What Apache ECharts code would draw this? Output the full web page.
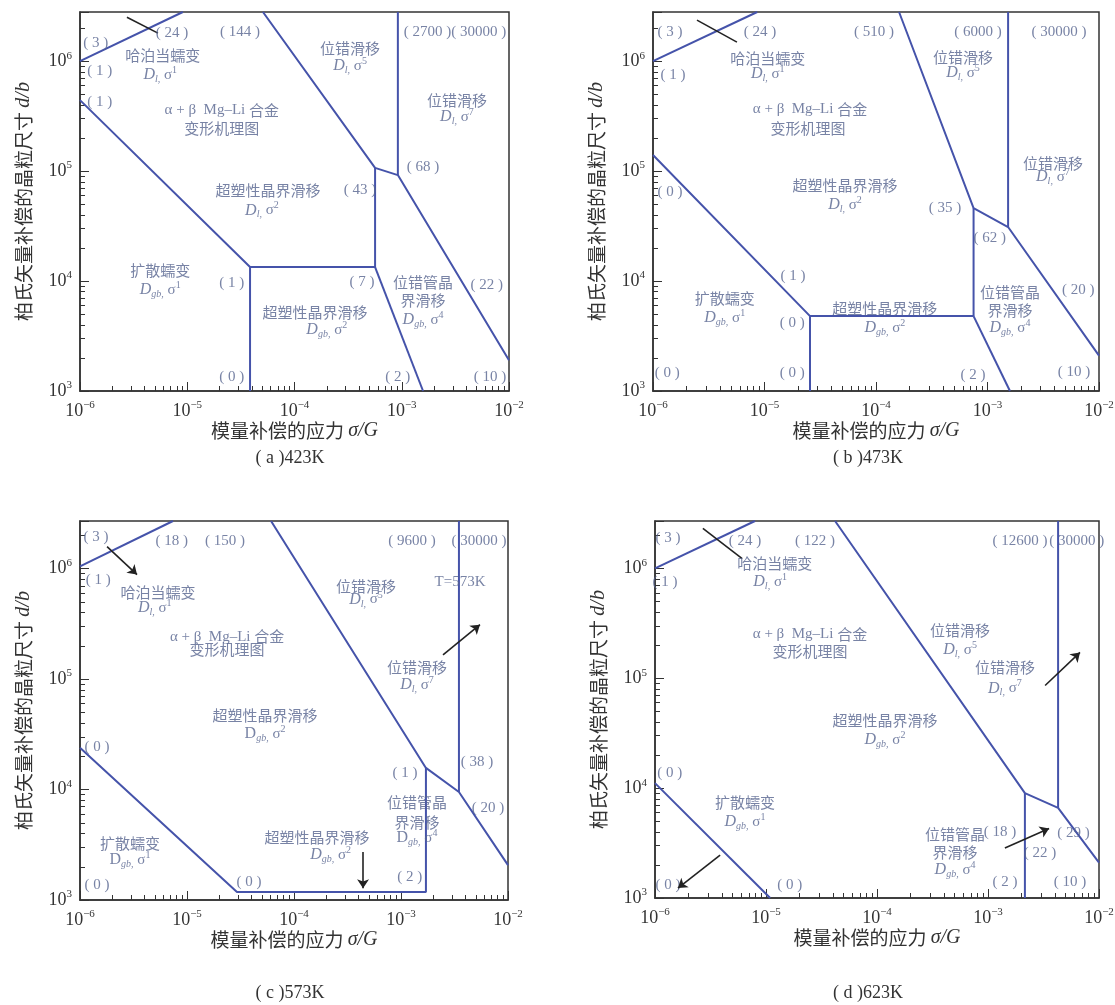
<!DOCTYPE html>
<html>
<head>
<meta charset="utf-8">
<script src="https://cdn.jsdelivr.net/npm/echarts@6/dist/echarts.min.js"></script>
<style>
  html, body { margin: 0; padding: 0; background: #fff; }
  #chart { width: 1115px; height: 1005px; }
</style>
</head>
<body>
<div id="chart"></div>
<script>
// ---------------- data (sigma/G , d/b) ----------------
var xMin = 1e-6, xMax = 1e-2, yMin = 1e3;
var yMaxes = [2.8e6, 2.8e6, 2.7e6, 2.7e6];
var captions = ['( a )423K', '( b )473K', '( c )573K', '( d )623K'];

// boundaries (blue lines), one polyline each
var boundsA = [
    [[1e-6, 1e6], [9.1e-6, 2.8e6]],
    [[1e-6, 4.42e5], [3.85e-5, 1.34e4], [5.64e-4, 1.34e4]],
    [[3.85e-5, 1e3], [3.85e-5, 1.34e4]],
    [[5.64e-4, 1.34e4], [5.64e-4, 1.07e5]],
    [[5.08e-5, 2.8e6], [5.64e-4, 1.07e5], [9.2e-4, 9.2e4], [1e-2, 1.9e3]],
    [[9.2e-4, 9.2e4], [9.2e-4, 2.8e6]],
    [[5.64e-4, 1.34e4], [1.58e-3, 1e3]]
];
var boundsB = [
    [[1e-6, 1e6], [8.6e-6, 2.8e6]],
    [[1e-6, 1.4e5], [2.56e-5, 4.8e3], [7.5e-4, 4.8e3]],
    [[2.56e-5, 1e3], [2.56e-5, 4.8e3]],
    [[7.5e-4, 4.8e3], [7.5e-4, 4.6e4]],
    [[1.61e-4, 2.8e6], [7.5e-4, 4.6e4], [1.53e-3, 3.1e4], [1e-2, 2.1e3]],
    [[1.53e-3, 3.1e4], [1.53e-3, 2.8e6]],
    [[7.5e-4, 4.8e3], [1.59e-3, 1e3]]
];
var boundsC = [
    [[1e-6, 1.05e6], [7.4e-6, 2.7e6]],
    [[1e-6, 2.39e4], [2.93e-5, 1.18e3], [1.71e-3, 1.18e3], [1.71e-3, 1.57e4]],
    [[6.1e-5, 2.7e6], [1.71e-3, 1.57e4], [3.48e-3, 9.5e3], [1e-2, 2.07e3]],
    [[3.48e-3, 9.5e3], [3.48e-3, 2.7e6]]
];
var boundsD = [
    [[1e-6, 1e6], [7.96e-6, 2.7e6]],
    [[1e-6, 1.11e4], [1.09e-5, 1e3]],
    [[4.19e-5, 2.7e6], [2.15e-3, 9e3], [4.28e-3, 6.6e3], [1e-2, 2.1e3]],
    [[2.15e-3, 9e3], [2.15e-3, 1e3]],
    [[4.28e-3, 6.6e3], [4.28e-3, 2.7e6]]
];

// short black strokes
var blackA = [[[2.74e-6, 2.51e6], [5.33e-6, 1.8e6]]];
var blackB = [[[2.48e-6, 2.36e6], [5.66e-6, 1.49e6]]];
var blackC = [];
var blackD = [[[2.7e-6, 2.31e6], [6.1e-6, 1.23e6]]];

// arrows: [from, to]
var arrowsA = [];
var arrowsB = [];
var arrowsC = [
    [[1.79e-6, 1.58e6], [3.41e-6, 8.83e5]],
    [[4.42e-4, 2.72e3], [4.42e-4, 1.28e3]],
    [[2.47e-3, 1.66e5], [5.47e-3, 3.11e5]]
];
var arrowsD = [
    [[3.86e-6, 2.46e3], [1.61e-6, 1.23e3]],
    [[1.42e-3, 2.85e3], [3.55e-3, 4.3e3]],
    [[3.27e-3, 8.6e4], [6.74e-3, 1.72e5]]
];

// text labels: [sigma/G, d/b, text]   "Dl,5" -> D_l, sigma^5
var labelsA = [
    [1.4e-6, 1.46e6, '( 3 )'], [7.2e-6, 1.8e6, '( 24 )'], [3.1e-5, 1.84e6, '( 144 )'],
    [3.14e-3, 1.84e6, '( 2700 )( 30000 )'],
    [5.9e-6, 1.13e6, '哈泊当蠕变'], [5.6e-6, 7.5e5, 'Dl,1'],
    [1.53e-6, 8.1e5, '( 1 )'], [1.53e-6, 4.24e5, '( 1 )'],
    [3.3e-4, 1.31e6, '位错滑移'], [3.3e-4, 9.0e5, 'Dl,5'],
    [2.1e-5, 3.59e5, 'α + β  Mg–Li 合金'], [2.1e-5, 2.46e5, '变形机理图'],
    [3.27e-3, 4.42e5, '位错滑移'], [3.27e-3, 3.1e5, 'Dl,7'],
    [1.58e-3, 1.09e5, '( 68 )'],
    [5.66e-5, 6.7e4, '超塑性晶界滑移'], [4.97e-5, 4.4e4, 'Dl,2'], [4.08e-4, 6.7e4, '( 43 )'],
    [5.6e-6, 1.26e4, '扩散蠕变'], [5.6e-6, 8.3e3, 'Dgb,1'], [2.6e-5, 9.6e3, '( 1 )'],
    [4.26e-4, 9.8e3, '( 7 )'],
    [1.58e-3, 9.8e3, '位错管晶'], [1.58e-3, 6.7e3, '界滑移'], [1.58e-3, 4.4e3, 'Dgb,4'],
    [6.2e-3, 9.2e3, '( 22 )'],
    [1.55e-4, 5.2e3, '超塑性晶界滑移'], [2.0e-4, 3.6e3, 'Dgb,2'],
    [2.6e-5, 1.34e3, '( 0 )'], [9.2e-4, 1.34e3, '( 2 )'], [6.65e-3, 1.34e3, '( 10 )']
];
var labelsB = [
    [1.42e-6, 1.84e6, '( 3 )'], [9.1e-6, 1.84e6, '( 24 )'],
    [1.07e-5, 1.06e6, '哈泊当蠕变'], [1.07e-5, 7.6e5, 'Dl,1'], [1.51e-6, 7.5e5, '( 1 )'],
    [2.56e-5, 3.66e5, 'α + β  Mg–Li 合金'], [2.45e-5, 2.46e5, '变形机理图'],
    [9.6e-5, 1.84e6, '( 510 )'], [8.2e-4, 1.84e6, '( 6000 )'], [4.37e-3, 1.84e6, '( 30000 )'],
    [6.03e-4, 1.09e6, '位错滑移'], [6.03e-4, 7.8e5, 'Dl,5'],
    [3.86e-3, 1.18e5, '位错滑移'], [3.86e-3, 8.8e4, 'Dl,7'],
    [5.27e-5, 7.5e4, '超塑性晶界滑移'], [5.27e-5, 4.9e4, 'Dl,2'],
    [4.16e-4, 4.6e4, '( 35 )'], [1.05e-3, 2.46e4, '( 62 )'],
    [1.42e-6, 6.4e4, '( 0 )'], [1.8e-5, 1.11e4, '( 1 )'],
    [4.4e-6, 7.0e3, '扩散蠕变'], [4.4e-6, 4.6e3, 'Dgb,1'],
    [1.77e-5, 4.15e3, '( 0 )'], [1.77e-5, 1.46e3, '( 0 )'], [1.34e-6, 1.46e3, '( 0 )'],
    [1.2e-4, 5.7e3, '超塑性晶界滑移'], [1.2e-4, 3.74e3, 'Dgb,2'],
    [1.59e-3, 7.9e3, '位错管晶'], [1.59e-3, 5.4e3, '界滑移'], [1.59e-3, 3.74e3, 'Dgb,4'],
    [6.5e-3, 8.3e3, '( 20 )'], [7.4e-4, 1.4e3, '( 2 )'], [5.97e-3, 1.49e3, '( 10 )']
];
var labelsC = [
    [1.41e-6, 1.95e6, '( 3 )'], [7.2e-6, 1.76e6, '( 18 )'], [2.26e-5, 1.76e6, '( 150 )'],
    [1.48e-6, 7.96e5, '( 1 )'],
    [5.36e-6, 6.07e5, '哈泊当蠕变'], [5.0e-6, 4.44e5, 'Dl,1'],
    [2.37e-5, 2.42e5, 'α + β  Mg–Li 合金'], [2.37e-5, 1.85e5, '变形机理图'],
    [1.27e-3, 1.76e6, '( 9600 )'], [5.36e-3, 1.76e6, '( 30000 )'],
    [4.71e-4, 6.9e5, '位错滑移'], [4.71e-4, 5.25e5, 'Dl,5'], [3.56e-3, 7.5e5, 'T=573K'],
    [1.41e-3, 1.27e5, '位错滑移'], [1.41e-3, 8.9e4, 'Dl,7'],
    [5.36e-5, 4.75e4, '超塑性晶界滑移'], [5.36e-5, 3.2e4, 'Dgb,2r'],
    [1.44e-6, 2.44e4, '( 0 )'],
    [2.93e-6, 3.29e3, '扩散蠕变'], [2.93e-6, 2.3e3, 'Dgb,1r'],
    [1.44e-6, 1.37e3, '( 0 )'], [3.8e-5, 1.46e3, '( 0 )'],
    [1.64e-4, 3.73e3, '超塑性晶界滑移'], [2.2e-4, 2.56e3, 'Dgb,2'],
    [1.09e-3, 1.42e4, '( 1 )'], [5.13e-3, 1.78e4, '( 38 )'],
    [1.41e-3, 7.6e3, '位错管晶'], [1.41e-3, 5.1e3, '界滑移'], [1.41e-3, 3.65e3, 'Dgb,4r'],
    [6.5e-3, 6.8e3, '( 20 )'], [1.21e-3, 1.62e3, '( 2 )']
];
var labelsD = [
    [1.31e-6, 1.87e6, '( 3 )'], [6.47e-6, 1.76e6, '( 24 )'], [2.76e-5, 1.76e6, '( 122 )'],
    [1.94e-3, 1.76e6, '( 12600 )'], [6.3e-3, 1.76e6, '( 30000 )'],
    [1.2e-5, 1.11e6, '哈泊当蠕变'], [1.09e-5, 7.5e5, 'Dl,1'], [1.23e-6, 7.5e5, '( 1 )'],
    [2.49e-5, 2.51e5, 'α + β  Mg–Li 合金'], [2.49e-5, 1.76e5, '变形机理图'],
    [5.6e-4, 2.73e5, '位错滑移'], [5.6e-4, 1.8e5, 'Dl,5'],
    [1.42e-3, 1.26e5, '位错滑移'], [1.42e-3, 8.1e4, 'Dl,7'],
    [1.18e-4, 4.15e4, '超塑性晶界滑移'], [1.18e-4, 2.73e4, 'Dgb,2'],
    [1.36e-6, 1.37e4, '( 0 )'],
    [6.47e-6, 7.5e3, '扩散蠕变'], [6.47e-6, 4.9e3, 'Dgb,1'],
    [1.28e-3, 4.0e3, '( 18 )'], [5.9e-3, 3.9e3, '( 29 )'],
    [5.05e-4, 3.82e3, '位错管晶'], [5.05e-4, 2.62e3, '界滑移'], [5.05e-4, 1.8e3, 'Dgb,4'],
    [2.94e-3, 2.56e3, '( 22 )'],
    [1.31e-6, 1.31e3, '( 0 )'], [1.64e-5, 1.31e3, '( 0 )'],
    [1.42e-3, 1.4e3, '( 2 )'], [5.48e-3, 1.4e3, '( 10 )']
];

// ---------------- styling / layout ----------------
var SERIF = "'Liberation Serif', 'Times New Roman', serif";
var CJK = "'Noto Sans CJK SC', sans-serif";
var TXT = '#56648f';
var LINE = '#4553aa';
var AX = '#333';

var grids = [
    { left: 80, top: 12, width: 429, height: 379 },
    { left: 653, top: 12, width: 446, height: 379 },
    { left: 80, top: 521, width: 428, height: 379 },
    { left: 655, top: 521, width: 444, height: 377 }
];
var captionPos = [[290, 458], [868, 458], [290, 993], [868, 993]];

var labelRich = {
    t: { fontFamily: CJK, fontSize: 15, color: TXT, lineHeight: 19 },
    n: { fontFamily: SERIF, fontSize: 15, color: TXT, lineHeight: 19 },
    di: { fontFamily: SERIF, fontSize: 16, fontStyle: 'italic', color: TXT, lineHeight: 19 },
    dr: { fontFamily: SERIF, fontSize: 16, color: TXT, lineHeight: 19 },
    sb: { fontFamily: SERIF, fontSize: 10, fontStyle: 'italic', color: TXT, lineHeight: 10, verticalAlign: 'bottom' },
    sp: { fontFamily: SERIF, fontSize: 10, color: TXT, lineHeight: 10, verticalAlign: 'top' }
};

function fmt(s) {
    var m = s.match(/^D(l|gb),(\d)(r?)$/);
    if (m) {
        return '{' + (m[3] ? 'dr' : 'di') + '|D}{sb|' + m[1] + ',}{n| σ}{sp|' + m[2] + '}';
    }
    return s.split(/([\u4e00-\u9fff]+)/).filter(function (r) { return r.length; }).map(function (r) {
        return /[\u4e00-\u9fff]/.test(r) ? '{t|' + r + '}' : '{n|' + r + '}';
    }).join('');
}

function powLabel(v) {
    var e = Math.log10(v), r = Math.round(e);
    if (Math.abs(e - r) > 1e-6) return '';
    return '{b|10}{e|' + (r < 0 ? '−' + (-r) : r) + '}';
}
var powRich = {
    b: { fontFamily: SERIF, fontSize: 18, color: AX, lineHeight: 22 },
    e: { fontFamily: SERIF, fontSize: 11, color: AX, lineHeight: 11, verticalAlign: 'top' }
};

var panels = [
    { bounds: boundsA, black: blackA, arrows: arrowsA, labels: labelsA },
    { bounds: boundsB, black: blackB, arrows: arrowsB, labels: labelsB },
    { bounds: boundsC, black: blackC, arrows: arrowsC, labels: labelsC },
    { bounds: boundsD, black: blackD, arrows: arrowsD, labels: labelsD }
];

var option = {
    animation: false,
    backgroundColor: '#fff',
    grid: [],
    xAxis: [],
    yAxis: [],
    series: [],
    graphic: []
};

panels.forEach(function (p, i) {
    var g = grids[i];
    option.grid.push({
        left: g.left, top: g.top, width: g.width, height: g.height,
        show: true, borderColor: AX, borderWidth: 1.5, outerBoundsMode: 'none'
    });
    option.xAxis.push({
        type: 'log', logBase: 10, gridIndex: i, min: xMin, max: xMax,
        name: '{c|模量补偿的应力 }{i|σ/G}', nameLocation: 'middle', nameGap: 20,
        nameTextStyle: { rich: {
            c: { fontFamily: CJK, fontSize: 19, color: AX },
            i: { fontFamily: SERIF, fontStyle: 'italic', fontSize: 20, color: AX }
        } },
        axisLine: { lineStyle: { color: AX, width: 1.5 } },
        axisTick: { inside: true, length: 9, lineStyle: { color: AX } },
        minorTick: { show: true, splitNumber: 9, length: 5, lineStyle: { color: AX } },
        axisLabel: { formatter: powLabel, rich: powRich, margin: 9 },
        splitLine: { show: false }
    });
    option.yAxis.push({
        type: 'log', logBase: 10, gridIndex: i, min: yMin, max: yMaxes[i],
        name: '{c|柏氏矢量补偿的晶粒尺寸 }{i|d/b}', nameLocation: 'middle', nameGap: 46,
        nameTextStyle: { rich: {
            c: { fontFamily: CJK, fontSize: 19, color: AX },
            i: { fontFamily: SERIF, fontStyle: 'italic', fontSize: 20, color: AX }
        } },
        axisLine: { lineStyle: { color: AX, width: 1.5 } },
        axisTick: { inside: true, length: 9, lineStyle: { color: AX } },
        minorTick: { show: true, splitNumber: 9, length: 5, lineStyle: { color: AX } },
        axisLabel: { formatter: powLabel, rich: powRich, margin: 8 },
        splitLine: { show: false }
    });

    p.bounds.forEach(function (poly) {
        option.series.push({
            type: 'line', xAxisIndex: i, yAxisIndex: i, data: poly,
            symbol: 'none', silent: true, z: 3,
            lineStyle: { color: LINE, width: 2 }
        });
    });
    p.black.forEach(function (poly) {
        option.series.push({
            type: 'line', xAxisIndex: i, yAxisIndex: i, data: poly,
            symbol: 'none', silent: true, z: 3,
            lineStyle: { color: '#222', width: 1.6 }
        });
    });
    option.series.push({
        type: 'scatter', xAxisIndex: i, yAxisIndex: i, symbolSize: 0, silent: true, z: 4,
        clip: false,
        data: p.labels.map(function (l) { return { value: [l[0], l[1]], name: l[2] }; }),
        label: {
            show: true, position: 'inside', color: TXT,
            formatter: function (q) { return fmt(q.name); },
            rich: labelRich
        },
        markLine: {
            silent: true, symbol: ['none', 'arrow'], symbolSize: 9,
            lineStyle: { color: '#222', width: 1.6, type: 'solid' },
            label: { show: false },
            data: p.arrows.map(function (a) {
                return [{ coord: a[0] }, { coord: a[1] }];
            })
        }
    });

    option.graphic.push({
        type: 'text', x: captionPos[i][0], y: captionPos[i][1],
        style: {
            text: captions[i], fill: AX, align: 'center', verticalAlign: 'middle',
            font: '18px ' + SERIF
        }
    });
});

var chart = echarts.init(document.getElementById('chart'), null, { renderer: 'canvas' });
chart.setOption(option);
</script>
</body>
</html>
